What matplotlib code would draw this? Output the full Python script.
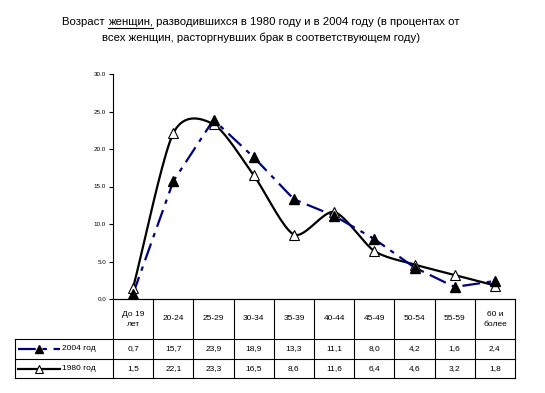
import numpy as np
import matplotlib
matplotlib.use("Agg")
import matplotlib.pyplot as plt
from matplotlib.lines import Line2D

plt.rcParams['font.family'] = ['Liberation Sans', 'DejaVu Sans']

# data
categories = ["До 19\nлет", "20-24", "25-29", "30-34", "35-39", "40-44",
              "45-49", "50-54", "55-59", "60 и\nболее"]
vals_2004 = [0.7, 15.7, 23.9, 18.9, 13.3, 11.1, 8.0, 4.2, 1.6, 2.4]
vals_1980 = [1.5, 22.1, 23.3, 16.5, 8.6, 11.6, 6.4, 4.6, 3.2, 1.8]
labels_2004 = ["0,7", "15,7", "23,9", "18,9", "13,3", "11,1", "8,0", "4,2", "1,6", "2,4"]
labels_1980 = ["1,5", "22,1", "23,3", "16,5", "8,6", "11,6", "6,4", "4,6", "3,2", "1,8"]
yticks = [0, 5, 10, 15, 20, 25, 30]


def smooth(x, y, n=20, s=0.8):
    """Cardinal spline through the points, like Excel's smoothed line"""
    x = np.asarray(x, float)
    y = np.asarray(y, float)
    px = np.concatenate([[2 * x[0] - x[1]], x, [2 * x[-1] - x[-2]]])
    py = np.concatenate([[2 * y[0] - y[1]], y, [2 * y[-1] - y[-2]]])
    xs, ys = [], []
    t = np.linspace(0, 1, n, endpoint=False)
    h00 = 2 * t ** 3 - 3 * t ** 2 + 1
    h10 = t ** 3 - 2 * t ** 2 + t
    h01 = -2 * t ** 3 + 3 * t ** 2
    h11 = t ** 3 - t ** 2
    for i in range(1, len(px) - 2):
        for arr, out in ((px, xs), (py, ys)):
            p0, p1, p2, p3 = arr[i - 1], arr[i], arr[i + 1], arr[i + 2]
            m1 = s * (p2 - p0) / 2
            m2 = s * (p3 - p1) / 2
            out.extend(h00 * p1 + h10 * m1 + h01 * p2 + h11 * m2)
    xs.append(x[-1])
    ys.append(y[-1])
    return np.array(xs), np.array(ys)


W, H = 545, 393
fig = plt.figure(figsize=(W / 100, H / 100), dpi=100)
L, R, T, B = 113, 515, 74, 299
ax = fig.add_axes([L / W, 1 - B / H, (R - L) / W, (B - T) / H])

x = np.arange(len(categories))
sx, sy = smooth(x, vals_1980)
ax.plot(sx, sy, color='black', lw=1.6, zorder=3)
ax.plot(x, vals_1980, ls='none', marker='^', ms=7, mfc='white', mec='black',
        mew=0.8, zorder=4)
ax.plot(x, vals_2004, color='#000080', lw=1.6, ls=(0, (8, 3, 2, 3)), zorder=3)
ax.plot(x, vals_2004, ls='none', marker='^', ms=7, mfc='black', mec='black',
        zorder=5)

ax.set_xlim(-0.5, len(categories) - 0.5)
ax.set_ylim(0, 30)
ax.set_yticks(yticks)
ax.set_yticklabels([f"{v:.1f}" for v in yticks], fontsize=4.5)
ax.set_xticks([])
ax.tick_params(axis='y', direction='out', length=3, width=0.8, pad=2)
for s in ['top', 'right']:
    ax.spines[s].set_visible(False)
ax.spines['left'].set_linewidth(0.8)
ax.spines['bottom'].set_linewidth(0.8)

# data table under the axes, drawn in pixel coordinates of the figure
def px(xp, yp):
    return xp / W, 1 - yp / H

rows = [299, 339, 359, 378]
colw = (R - L) / len(categories)
lk = dict(color='black', lw=0.8, transform=fig.transFigure)
# horizontal lines
fig.add_artist(Line2D([L / W, R / W], [1 - rows[0] / H] * 2, **lk))
for yp in rows[1:]:
    fig.add_artist(Line2D([15 / W, R / W], [1 - yp / H] * 2, **lk))
# vertical lines
for i in range(len(categories) + 1):
    xp = L + i * colw
    fig.add_artist(Line2D([xp / W] * 2, [1 - rows[0] / H, 1 - rows[-1] / H], **lk))
fig.add_artist(Line2D([15 / W] * 2, [1 - rows[1] / H, 1 - rows[-1] / H], **lk))

fs = 6
for i, cat in enumerate(categories):
    cx = L + (i + 0.5) * colw
    fig.text(*px(cx, (rows[0] + rows[1]) / 2), cat, ha='center', va='center',
             fontsize=fs, linespacing=1.6)
    fig.text(*px(cx, (rows[1] + rows[2]) / 2), labels_2004[i], ha='center',
             va='center', fontsize=fs)
    fig.text(*px(cx, (rows[2] + rows[3]) / 2), labels_1980[i], ha='center',
             va='center', fontsize=fs)

# legend keys in the table
y1 = 1 - (rows[1] + rows[2]) / 2 / H
y2 = 1 - (rows[2] + rows[3]) / 2 / H
fig.add_artist(Line2D([18 / W, 60 / W], [y1, y1], color='#000080', lw=1.6,
                      ls=(0, (8, 3, 2, 3)), transform=fig.transFigure))
fig.add_artist(Line2D([39 / W], [y1], marker='^', ms=6, mfc='black', mec='black',
                      transform=fig.transFigure))
fig.add_artist(Line2D([18 / W, 60 / W], [y2, y2], color='black', lw=1.6,
                      transform=fig.transFigure))
fig.add_artist(Line2D([39 / W], [y2], marker='^', ms=6, mfc='white', mec='black',
                      mew=0.8, transform=fig.transFigure))
fig.text(62 / W, y1, "2004 год", va='center', fontsize=fs)
fig.text(62 / W, y2, "1980 год", va='center', fontsize=fs)

# title, "женщин," underlined
tfs = 8.2
parts = ["Возраст ", "женщин,", " разводившихся в 1980 году и в 2004 году (в процентах от"]
renderer = fig.canvas.get_renderer()
widths = []
for p in parts:
    t = fig.text(0, 0, p, fontsize=tfs)
    widths.append(t.get_window_extent(renderer).width)
    t.remove()
x0 = 261 - sum(widths) / 2
ty = 22
for p, w in zip(parts, widths):
    fig.text(x0 / W, 1 - ty / H, p, fontsize=tfs, va='center')
    if p == "женщин,":
        fig.add_artist(Line2D([x0 / W, (x0 + w) / W], [1 - (ty + 6) / H] * 2,
                              color='black', lw=0.8, transform=fig.transFigure))
    x0 += w
fig.text(261 / W, 1 - 38 / H, "всех женщин, расторгнувших брак в соответствующем году)",
         fontsize=tfs, ha='center', va='center')

fig.savefig("out.png", dpi=100)
